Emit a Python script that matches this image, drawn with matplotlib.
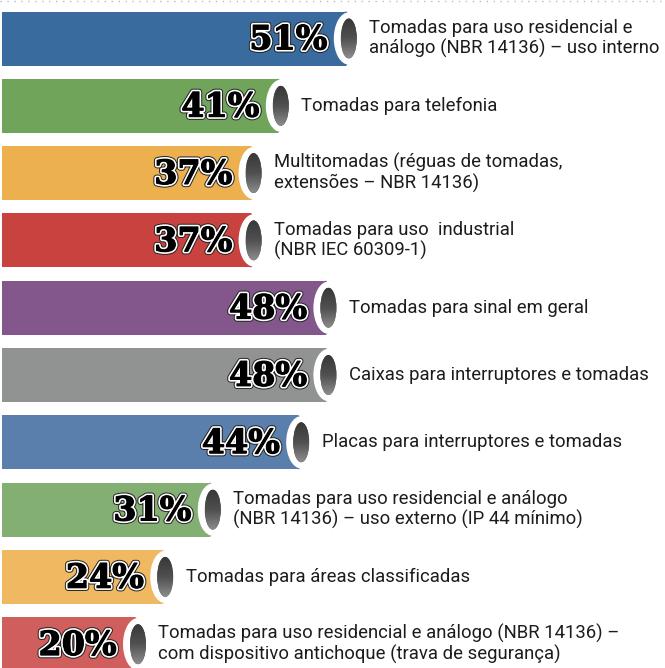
import numpy as np
import matplotlib
matplotlib.use('Agg')
import matplotlib.pyplot as plt
from matplotlib.patches import Ellipse, Rectangle
from matplotlib.colors import LinearSegmentedColormap
import matplotlib.patheffects as pe

# data (top to bottom)
values = [51, 41, 37, 37, 48, 48, 44, 31, 24, 20]
labels = [
    'Tomadas para uso residencial e\nanálogo (NBR 14136) – uso interno',
    'Tomadas para telefonia',
    'Multitomadas (réguas de tomadas,\nextensões – NBR 14136)',
    'Tomadas para uso  industrial\n(NBR IEC 60309-1)',
    'Tomadas para sinal em geral',
    'Caixas para interruptores e tomadas',
    'Placas para interruptores e tomadas',
    'Tomadas para uso residencial e análogo\n(NBR 14136) – uso externo (IP 44 mínimo)',
    'Tomadas para áreas classificadas',
    'Tomadas para uso residencial e análogo (NBR 14136) –\ncom dispositivo antichoque (trava de segurança)',
]
colors = ['#3A6B9E', '#6FA45A', '#EDB04F', '#C8433F', '#83568C',
          '#919392', '#5B7FAC', '#84AF73', '#F1B862', '#D05E5C']

fig = plt.figure(figsize=(6.65, 6.68), dpi=100)
ax = fig.add_axes([0, 0, 1, 1])

pxx = 6.8      # pixels per percent unit
pxy = 67.3     # pixels per row
x0 = -2 / pxx
x1 = x0 + 665 / pxx
y0 = -38.5 / pxy
y1 = y0 + 668 / pxy

bh = 54 / pxy
cap_w = 30 / pxx
hole_w = 16 / pxx
hole_h = 40 / pxy

grad = np.linspace(0, 1, 64).reshape(-1, 1)
cm = LinearSegmentedColormap.from_list('hole', ['#383838', '#505050', '#8c8c8c'])

for i, (v, lab, c) in enumerate(zip(values, labels, colors)):
    ax.add_patch(Rectangle((0, i - bh / 2), v - 0.4, bh, color=c, lw=0, zorder=1))
    ax.add_patch(Ellipse((v - 0.4, i), cap_w * 0.35, bh, color=c, lw=0, zorder=1))
    ax.add_patch(Ellipse((v, i), cap_w, bh * 0.97, color='white', lw=0, zorder=2))
    hole = Ellipse((v, i), hole_w, hole_h, color='#555', lw=0, zorder=3)
    ax.add_patch(hole)
    im = ax.imshow(grad, cmap=cm, aspect='auto', zorder=4,
                   extent=(v - hole_w / 2, v + hole_w / 2, i + hole_h / 2, i - hole_h / 2))
    im.set_clip_path(hole)

    ax.text(v - 3.1, i + 0.02, '%d%%' % v, ha='right', va='center',
            fontsize=24, fontweight='bold', family='DejaVu Serif', color='black', zorder=5,
            path_effects=[pe.Stroke(linewidth=4.6, foreground='#222222'),
                          pe.Stroke(linewidth=3.2, foreground='white'),
                          pe.Stroke(linewidth=0.8, foreground='black'),
                          pe.Normal()])
    ax.text(v + 3.0, i, lab, ha='left', va='center', fontsize=13.3,
            family='Roboto', color='#1c1c1c', linespacing=1.15, zorder=5)

ax.plot([0, 1], [0.998, 0.998], transform=ax.transAxes, color='#bbbbbb',
        lw=1, ls=(0, (1, 4)))

ax.set_xlim(x0, x1)
ax.set_ylim(y1, y0)
ax.axis('off')

plt.savefig('out.png', dpi=100)
